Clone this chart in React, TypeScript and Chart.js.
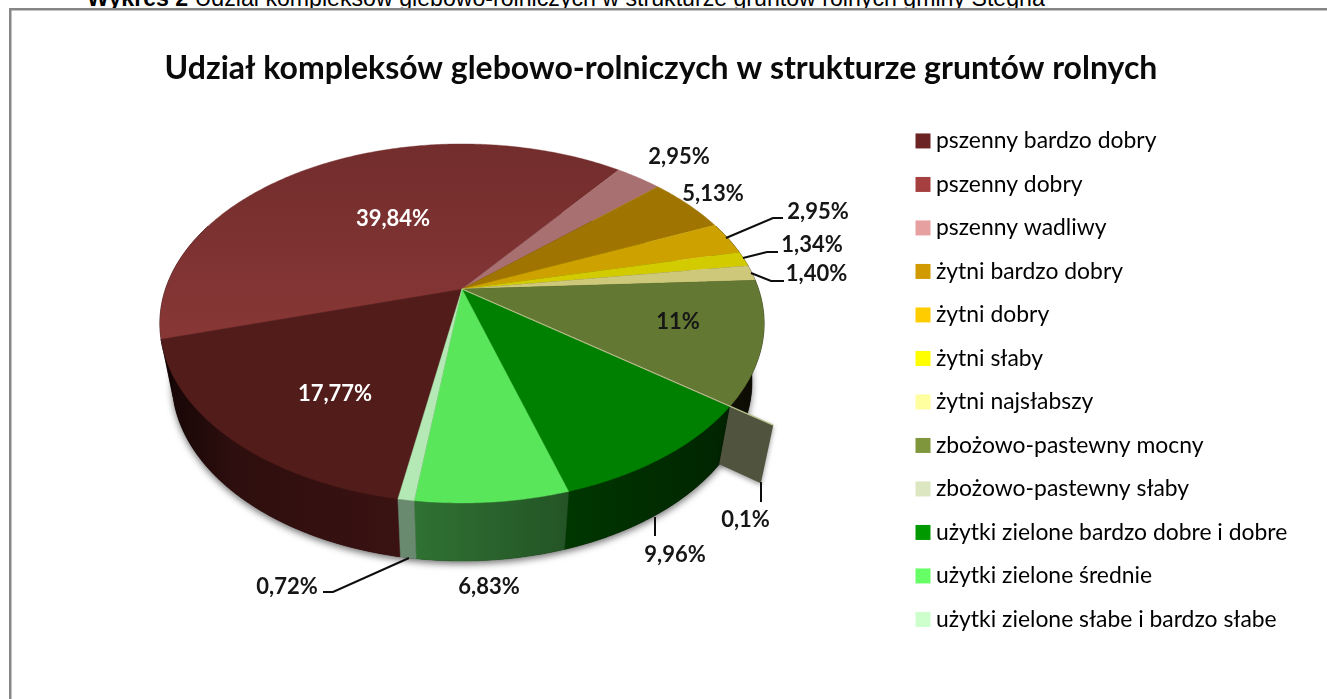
import React, { useEffect, useRef } from "react";
import { Chart, registerables } from "chart.js";

Chart.register(...registerables);

const categories = [
  "pszenny bardzo dobry", "pszenny dobry", "pszenny wadliwy", "żytni bardzo dobry", "żytni dobry", "żytni słaby",
  "żytni najsłabszy", "zbożowo-pastewny mocny", "zbożowo-pastewny słaby", "użytki zielone bardzo dobre i dobre",
  "użytki zielone średnie", "użytki zielone słabe i bardzo słabe",
];
const shares = [17.77, 39.84, 2.95, 5.13, 2.95, 1.34, 1.4, 11, 0.1, 9.96, 6.83, 0.72];
const shareLabels = ["17,77%", "39,84%", "2,95%", "5,13%", "2,95%", "1,34%", "1,40%", "11%", "0,1%", "9,96%", "6,83%", "0,72%"];
const legendColors = ["#6b2323", "#a64040", "#e6a0a0", "#d09a00", "#ffcc00", "#ffff00", "#ffffa0", "#7f963c", "#dce6c0", "#009900", "#66ff66", "#ccffcc"];
const topColors = ["#521c1a", "#7d3130", "#a87070", "#a07400", "#cda100", "#d1cb00", "#cdc87a", "#637933", "#b8c28c", "#008000", "#5ae65a", "#b4e8b4"];
const wallLeft = ["#140505", "#140505", "#140505", "#140505", "#140505", "#140505", "#140505", "#0f0f04", "#50543f", "#003600", "#2f7232", "#6a8a70"];
const wallRight = ["#3a1212", "#140505", "#140505", "#140505", "#140505", "#140505", "#140505", "#0a0a02", "#50543f", "#012401", "#245426", "#6a8a70"];
const captionBold = "Wykres 2";
const captionRest = " Udział kompleksów glebowo-rolniczych w strukturze gruntów rolnych gminy Stegna";
const chartTitle = "Udział kompleksów glebowo-rolniczych w strukturze gruntów rolnych";
const explodedIndex = 8;
const explodedReach = 1.14;

// where each value label sits and the leader line that ties it to its slice
const labelSpots: [number, number][] = [[335, 394], [393, 219], [679, 157], [713, 194], [818, 212], [812, 245], [816.5, 274], [678, 322], [745.5, 520], [675, 555], [489, 587], [287, 587]];
const leaders: [number, number][][] = [
  [[726, 238], [773, 218], [783, 218]],
  [[743, 258], [767, 252], [778, 252]],
  [[751, 273], [771, 281], [784, 281]],
  [[761, 482], [761, 502]],
  [[655, 517], [655, 536]],
  [[409, 558], [333, 592], [323, 592]],
];

// perspective of the disc
const HUB = { x: 462, y: 289 };
const R = 300;
const TILT = 0.192;
const SCALE_X = 296.5 / R;
const SCALE_Y = 172.9 / R;
const DEPTH = 58;
const BOTTOM_SCALE = 0.96;

type Pt = { x: number; y: number };

function project(cx: number, cy: number, radius: number, angle: number, reach = 1): Pt {
  const u = Math.cos(angle) * reach;
  const v = Math.sin(angle) * reach;
  const w = 1 - TILT * v;
  return { x: cx + (radius * SCALE_X * u) / w, y: cy + (radius * SCALE_Y * v) / w };
}
function lower(p: Pt, cx: number): Pt {
  return { x: cx + (p.x - cx) * BOTTOM_SCALE, y: p.y + DEPTH };
}
function trace(ctx: CanvasRenderingContext2D, pts: Pt[]) {
  ctx.beginPath();
  pts.forEach((p, i) => (i ? ctx.lineTo(p.x, p.y) : ctx.moveTo(p.x, p.y)));
  ctx.closePath();
}
function rim(cx: number, cy: number, radius: number, a: number, b: number): Pt[] {
  const n = Math.max(2, Math.ceil(Math.abs(b - a) / 0.01));
  const out: Pt[] = [];
  for (let i = 0; i <= n; i++) out.push(project(cx, cy, radius, a + ((b - a) * i) / n));
  return out;
}

const pie3d = {
  id: "pie3d",
  beforeDraw(chart: any) {
    const { ctx, width, height } = chart;
    ctx.save();
    ctx.fillStyle = "#ffffff";
    ctx.fillRect(9, 8, width - 9, height - 8);
    ctx.fillStyle = "#868686";
    ctx.fillRect(9, 8, width - 9, 2.5);
    ctx.fillRect(9, 8, 2.5, height - 8);
    ctx.restore();
  },
  afterLayout(chart: any) {
    const a = chart.chartArea;
    a.left = HUB.x - R;
    a.right = HUB.x + R;
    a.top = HUB.y - R;
    a.bottom = HUB.y + R;
    a.width = 2 * R;
    a.height = 2 * R;
    const lg = chart.legend;
    const pad = lg.options.labels.padding;
    lg.left = 921.5 - pad;
    lg.top = 108.9;
    lg.bottom = 699;
  },
  beforeDatasetDraw() {
    return false;
  },
  beforeDatasetsDraw(chart: any) {
    const { ctx } = chart;
    const arcs = chart.getDatasetMeta(0).data as any[];
    const { x: cx, y: cy, outerRadius: r } = arcs[0].getProps(["x", "y", "outerRadius"], true);
    ctx.save();

    // soft shadow below the walls
    ctx.save();
    ctx.shadowColor = "rgba(0,0,0,0.55)";
    ctx.shadowBlur = 7;
    ctx.shadowOffsetY = 3;
    ctx.fillStyle = "#140505";
    trace(ctx, rim(cx, cy, r, -0.2, Math.PI * 2 - 0.2).map((p) => lower(p, cx)));
    ctx.fill();
    ctx.restore();

    // outer walls
    const frontA = -0.4;
    const frontB = Math.PI + 0.4;
    arcs.forEach((arc, i) => {
      const { startAngle, endAngle } = arc.getProps(["startAngle", "endAngle"], true);
      for (const turn of [0, -2 * Math.PI]) {
        const a = Math.max(startAngle + turn, frontA);
        const b = Math.min(endAngle + turn, frontB);
        if (b <= a) continue;
        const top = rim(cx, cy, r, a, b);
        const bot = top.map((p) => lower(p, cx)).reverse();
        const xs = top.map((p) => p.x);
        const g = ctx.createLinearGradient(Math.min(...xs), 0, Math.max(...xs), 0);
        g.addColorStop(0, wallLeft[i]);
        if (i === 0) g.addColorStop(0.3, "#2e0e0e");
        g.addColorStop(1, wallRight[i]);
        ctx.fillStyle = g;
        trace(ctx, [...top, ...bot]);
        ctx.fill();
        ctx.strokeStyle = g;
        ctx.lineWidth = 0.5;
        ctx.stroke();
      }
    });

    // wall of the pulled out thin slice
    const thin = arcs[explodedIndex].getProps(["startAngle", "endAngle"], true);
    const mid = (thin.startAngle + thin.endAngle) / 2;
    const inner = project(cx, cy, r, mid);
    const outer = project(cx, cy, r, mid, explodedReach);
    ctx.save();
    ctx.shadowColor = "rgba(0,0,0,0.4)";
    ctx.shadowBlur = 5;
    ctx.shadowOffsetY = 2;
    ctx.fillStyle = wallLeft[explodedIndex];
    trace(ctx, [inner, outer, lower(outer, cx), lower(inner, cx)]);
    ctx.fill();
    ctx.restore();

    // top faces
    arcs.forEach((arc, i) => {
      if (i === explodedIndex) return;
      const { startAngle, endAngle } = arc.getProps(["startAngle", "endAngle"], true);
      const g = ctx.createLinearGradient(0, 144, 0, 340);
      g.addColorStop(0, i === 1 ? "#722d2c" : topColors[i]);
      g.addColorStop(1, i === 1 ? "#873736" : topColors[i]);
      ctx.fillStyle = i === 1 ? g : topColors[i];
      trace(ctx, [{ x: cx, y: cy }, ...rim(cx, cy, r, startAngle, endAngle)]);
      ctx.fill();
      ctx.strokeStyle = ctx.fillStyle;
      ctx.lineWidth = 0.4;
      ctx.stroke();
    });
    ctx.strokeStyle = topColors[explodedIndex];
    ctx.lineWidth = 1.2;
    ctx.beginPath();
    ctx.moveTo(cx, cy);
    ctx.lineTo(outer.x, outer.y);
    ctx.stroke();

    // leader lines
    ctx.strokeStyle = "#0d0d0d";
    ctx.lineWidth = 2;
    leaders.forEach((line) => {
      ctx.beginPath();
      line.forEach(([x, y], i) => (i ? ctx.lineTo(x, y) : ctx.moveTo(x, y)));
      ctx.stroke();
    });

    // value labels
    ctx.font = "bold 22px Lato";
    ctx.textAlign = "center";
    ctx.textBaseline = "middle";
    shareLabels.forEach((t, i) => {
      ctx.fillStyle = i < 2 ? "#ffffff" : "#161616";
      ctx.fillText(t, labelSpots[i][0], labelSpots[i][1]);
    });
    ctx.restore();
  },
};

export default function App() {
  const ref = useRef<HTMLCanvasElement>(null);
  useEffect(() => {
    const chart = new Chart(ref.current!, {
      type: "pie",
      data: {
        labels: categories,
        datasets: [{ data: shares, backgroundColor: legendColors, borderWidth: 0 }],
      },
      options: {
        animation: false,
        responsive: false,
        rotation: 190.1,
        layout: { padding: { top: 49, right: 5 } },
        plugins: {
          title: {
            display: true,
            text: chartTitle,
            color: "#0a0a0a",
            font: { family: "Lato", size: 32, weight: "bold" },
            padding: 0,
          },
          tooltip: { enabled: false },
          legend: {
            position: "right",
            align: "start",
            labels: {
              font: { family: "Lato", size: 22.9 },
              color: "#262626",
              boxWidth: 3,
              boxHeight: 3,
              padding: 20.6,
              generateLabels: (c: any) =>
                c.data.labels.map((text: string, i: number) => ({
                  text,
                  index: i,
                  fillStyle: legendColors[i],
                  strokeStyle: legendColors[i],
                  lineWidth: 12,
                  hidden: false,
                })),
            },
          },
        },
      } as any,
      plugins: [pie3d],
    });
    return () => chart.destroy();
  }, []);
  return (
    <div style={{ position: "fixed", inset: 0, overflow: "hidden", background: "#fff" }}>
      <div
        style={{
          position: "absolute",
          left: 87,
          top: -15,
          whiteSpace: "nowrap",
          font: "23.15px 'Liberation Sans', Arial, sans-serif",
          color: "#000",
        }}
      >
        <b>{captionBold}</b>
        {captionRest}
      </div>
      <canvas ref={ref} width={1327} height={699} style={{ position: "absolute", left: 0, top: 0, display: "block" }} />
    </div>
  );
}
